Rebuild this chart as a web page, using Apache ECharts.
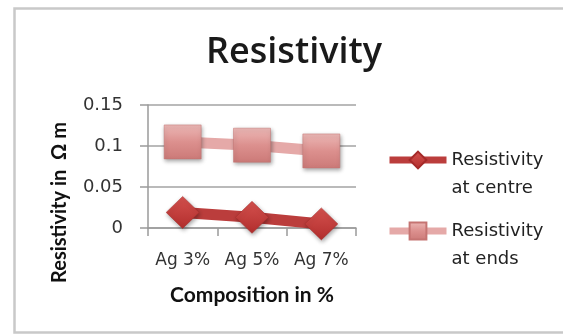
<!DOCTYPE html>
<html>
<head>
<meta charset="utf-8">
<script src="https://cdn.jsdelivr.net/npm/echarts@6/dist/echarts.min.js"></script>
<style>
  html, body { margin: 0; padding: 0; background: #fff; }
  #chart { width: 563px; height: 334px; }
</style>
</head>
<body>
<div id="chart"></div>
<script>
// Compositions along the x axis
const categories = ['Ag 3%', 'Ag 5%', 'Ag 7%'];
// Resistivity (Ω m) measured at the centre and at the ends of each sample
const centreValues = [0.019, 0.013, 0.005];
const endsValues = [0.105, 0.101, 0.094];
// Value axis ticks
const yTicks = [0, 0.05, 0.1, 0.15];
// Series names as shown in the legend
const seriesNames = ['Resistivity\nat centre', 'Resistivity\nat ends'];

const TITLE_FONT = 'Open Sans';
const AXIS_NAME_FONT = 'Lato';
const LABEL_FONT = 'DejaVu Sans';
const chart = echarts.init(document.getElementById('chart'), null, { renderer: 'canvas' });

const shadow = {
  shadowBlur: 4,
  shadowColor: 'rgba(0,0,0,0.35)',
  shadowOffsetX: 1,
  shadowOffsetY: 2
};

chart.setOption({
  animation: false,
  backgroundColor: '#ffffff',
  title: {
    text: 'Resistivity',
    left: 289,
    top: 30,
    textAlign: 'center',
    textStyle: { fontFamily: TITLE_FONT, fontSize: 36, fontWeight: 600, color: '#1a1a1a' }
  },
  graphic: [{
    type: 'rect',
    shape: { x: 14.5, y: 8.5, width: 600, height: 324 },
    style: { fill: 'none', stroke: '#c9c9c9', lineWidth: 2.5 },
    silent: true
  }],
  grid: { left: 148, right: 207, top: 105, bottom: 106, containLabel: false },
  legend: {
    orient: 'vertical',
    left: 386,
    top: 118,
    padding: 0,
    itemWidth: 57,
    itemHeight: 21,
    itemGap: -13,
    lineStyle: { width: 7 },
    // an empty leading line keeps the icon level with the first text line
    formatter: name => '\n' + name,
    textStyle: { fontFamily: LABEL_FONT, fontSize: 18, color: '#222', lineHeight: 28 },
    data: seriesNames
  },
  xAxis: {
    type: 'category',
    data: categories,
    boundaryGap: true,
    name: 'Composition in %',
    nameLocation: 'middle',
    nameGap: 57,
    nameTextStyle: { fontFamily: AXIS_NAME_FONT, fontSize: 21, fontWeight: 'bold', color: '#111' },
    axisLine: { lineStyle: { color: '#9a9a9a', width: 1.5 } },
    axisTick: { show: true, length: 8, inside: false, alignWithLabel: false, lineStyle: { color: '#9a9a9a', width: 1.5 } },
    axisLabel: { fontFamily: LABEL_FONT, fontSize: 17, color: '#333', margin: 24, interval: 0, hideOverlap: false }
  },
  yAxis: {
    type: 'value',
    min: 0,
    max: 0.15,
    interval: 0.05,
    name: 'Resistivity in  Ω m',
    nameLocation: 'middle',
    nameGap: 78,
    // right padding moves the rotated title further down the axis
    nameTextStyle: { fontFamily: AXIS_NAME_FONT, fontSize: 20, fontWeight: 'bold', color: '#111', padding: [0, 72, 0, 0] },
    axisLine: { show: true, lineStyle: { color: '#9a9a9a', width: 1.5 } },
    axisTick: { show: true, length: 8, lineStyle: { color: '#9a9a9a', width: 1.5 } },
    splitLine: { lineStyle: { color: '#a3a3a3', width: 1.5 } },
    axisLabel: {
      fontFamily: LABEL_FONT, fontSize: 18, color: '#333', margin: 25,
      formatter: v => {
        const t = yTicks.find(x => Math.abs(x - v) < 1e-9);
        return t === undefined ? '' : String(t);
      }
    }
  },
  series: [
    {
      name: seriesNames[0],
      type: 'line',
      data: centreValues,
      symbol: 'diamond',
      symbolSize: [33, 32],
      lineStyle: { color: '#bb3d3c', width: 11 },
      itemStyle: Object.assign({
        color: new echarts.graphic.LinearGradient(0, 0, 0, 1, [
          { offset: 0, color: '#d4514e' },
          { offset: 1, color: '#b22e2d' }
        ]),
        borderColor: '#a52a29',
        borderWidth: 0.5
      }, shadow),
      z: 3
    },
    {
      name: seriesNames[1],
      type: 'line',
      data: endsValues,
      symbol: 'rect',
      symbolSize: [37, 34],
      lineStyle: { color: '#e5a9a8', width: 11 },
      itemStyle: Object.assign({
        color: new echarts.graphic.LinearGradient(0, 0, 0, 1, [
          { offset: 0, color: '#ecb8b6' },
          { offset: 0.5, color: '#dc908e' },
          { offset: 1, color: '#cc7a78' }
        ]),
        borderColor: '#c57472',
        borderWidth: 0.5
      }, shadow),
      z: 2
    }
  ]
});
</script>
</body>
</html>
